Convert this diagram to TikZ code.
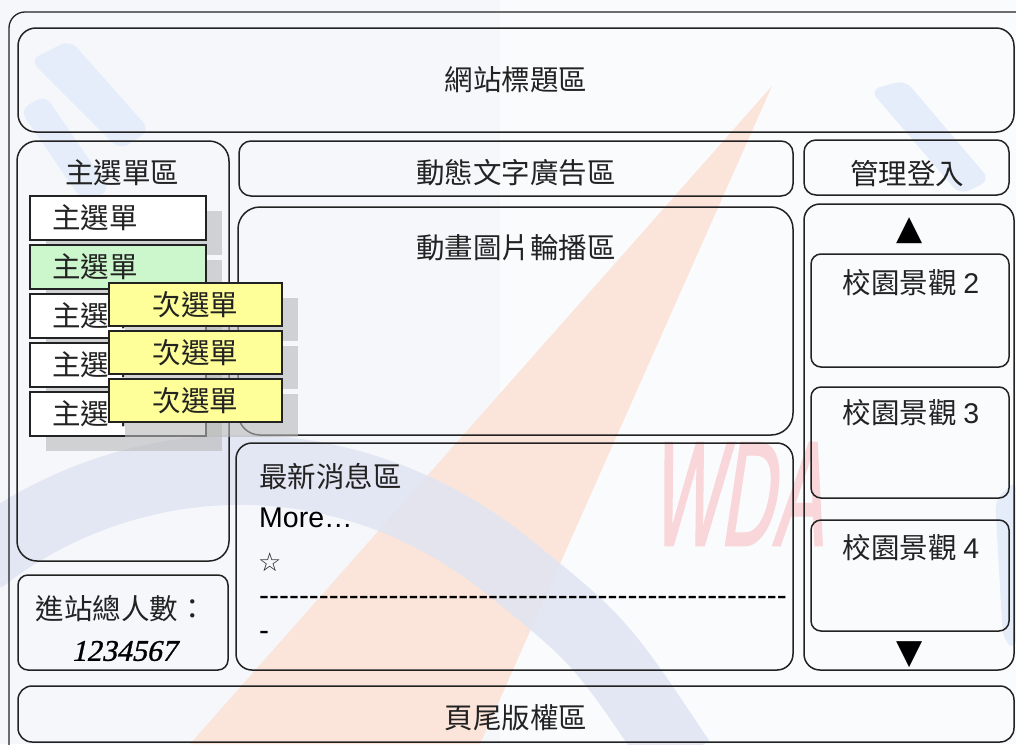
\documentclass[tikz,border=0pt]{standalone}
\usepackage{fontspec}
\setmainfont{Noto Sans CJK TC}
\newfontfamily\lat{Liberation Sans}
\newfontfamily\latbi[FakeSlant=0.3,FakeBold=2]{Liberation Sans}
\newfontfamily\sym{DejaVu Sans}
\newfontfamily\seri[FakeSlant=0.22,FakeBold=1]{Liberation Serif}
\definecolor{bordc}{HTML}{222222}
\definecolor{greenfill}{HTML}{CCF7CC}
\definecolor{yellowfill}{HTML}{FFFF99}
\definecolor{peach}{HTML}{FBE4DA}
\definecolor{lav}{HTML}{E0E4F2}
\definecolor{wdapink}{HTML}{F8D6D9}
\definecolor{shadowgray}{HTML}{B8B8B8}
\definecolor{bgblue}{HTML}{F5F7FB}
\definecolor{glyphblue}{HTML}{E6EDFA}
\begin{document}
\begin{tikzpicture}[x=1pt,y=-1pt,
  font=\fontsize{28.5}{34}\selectfont,
  frame/.style={draw=bordc,line width=1.5pt,inner sep=0pt,outer sep=0pt,anchor=north west},
  menuitem/.style={frame,fill=white,minimum width=176pt,minimum height=44pt},
  subitem/.style={frame,fill=yellowfill,line width=2pt,minimum width=173pt,minimum height=43pt},
  shade/.style={fill=shadowgray,opacity=0.6,inner sep=0pt,outer sep=0pt,anchor=north west},
  lbl/.style={inner sep=0pt,text=bordc},
  lblw/.style={lbl,anchor=west}]
\useasboundingbox (0,0) rectangle (1016,744);
\clip (0,0) rectangle (1016,744);
% background
\fill[bgblue] (0,0) rectangle (1016,744);
\fill[white,opacity=0.5] (500,0) rectangle (1016,744);
% watermark
\fill[glyphblue,rounded corners=10pt] (30,60) -- (70,40) -- (150,130) -- (120,150) -- cycle;
\fill[glyphblue,rounded corners=10pt] (20,110) -- (45,95) -- (110,190) -- (85,205) -- cycle;
\fill[glyphblue,rounded corners=10pt] (870,90) -- (905,80) -- (990,180) -- (960,195) -- cycle;
\fill[glyphblue,rounded corners=10pt] (995,500) -- (1016,480) -- (1016,650) -- (1003,640) -- cycle;
\fill[peach] (772,86) -- (480,744) -- (190,744) -- cycle;
\draw[lav,line width=70pt,opacity=0.85] (-20,560) .. controls (120,450) and (330,430) .. (500,560) .. controls (600,640) .. (680,760);
\node[lbl,text=wdapink,font=\latbi\fontsize{148}{148}\selectfont] (wda) at (736,494) {\scalebox{0.5}[1]{WDA}};
% frames
\node[frame,line width=1.3pt,rounded corners=16pt,minimum width=1040pt,minimum height=760pt] (outer) at (9,12) {};
\node[frame,rounded corners=18pt,minimum width=996pt,minimum height=104pt] (title) at (18,28) {};
\node[frame,rounded corners=20pt,minimum width=212pt,minimum height=420pt] (menu) at (17,141) {};
\node[frame,rounded corners=10pt,minimum width=210pt,minimum height=95pt] (counter) at (18,575) {};
\node[frame,rounded corners=14pt,minimum width=996pt,minimum height=56pt] (footer) at (18,686) {};
\node[frame,rounded corners=12pt,minimum width=554pt,minimum height=55pt] (ad) at (239,141) {};
\node[frame,rounded corners=12pt,minimum width=205pt,minimum height=55pt] (login) at (804,140) {};
\node[frame,rounded corners=22pt,minimum width=555pt,minimum height=228pt] (carousel) at (238,207) {};
\node[frame,rounded corners=16pt,minimum width=557pt,minimum height=227pt] (news) at (236,443) {};
\node[frame,rounded corners=16pt,minimum width=210pt,minimum height=466pt] (right) at (804,204) {};
\node[frame,rounded corners=10pt,minimum width=198pt,minimum height=113pt] (v2) at (811,254) {};
\node[frame,rounded corners=10pt,minimum width=198pt,minimum height=111pt] (v3) at (811,387) {};
\node[frame,rounded corners=10pt,minimum width=198pt,minimum height=111pt] (v4) at (811,520) {};
% main menu shadows
\foreach \yy [count=\k] in {196,245,294,343,392}{
  \node[shade,minimum width=176pt,minimum height=44pt] (ms\k) at (46,\yy+15) {};
}
% main menu items
\node[menuitem] (m1) at (30,196) {};
\node[lblw] (m1t) at (52,218) {主選單};
\node[menuitem,fill=greenfill] (m2) at (30,245) {};
\node[lblw] (m2t) at (52,267) {主選單};
\node[menuitem] (m3) at (30,294) {};
\node[lblw] (m3t) at (52,316) {主選單};
\node[menuitem] (m4) at (30,343) {};
\node[lblw] (m4t) at (52,365) {主選單};
\node[menuitem] (m5) at (30,392) {};
\node[lblw] (m5t) at (52,414) {主選單};
% sub menu shadows
\foreach \yy [count=\k] in {283,331,379}{
  \node[shade,minimum width=173pt,minimum height=43pt] (ss\k) at (125,\yy+15) {};
}
\node[subitem] (s1) at (109,283) {};
\node[lbl] (s1t) at (s1.center) {次選單};
\node[subitem] (s2) at (109,331) {};
\node[lbl] (s2t) at (s2.center) {次選單};
\node[subitem] (s3) at (109,379) {};
\node[lbl] (s3t) at (s3.center) {次選單};
% labels
\node[lbl] (t-title) at (516,80) {網站標題區};
\node[lbl] (t-menu) at (122,173) {主選單區};
\node[lbl] (t-ad) at (516,173) {動態文字廣告區};
\node[lbl] (t-login) at (907,174) {管理登入};
\node[lbl] (t-car) at (516,248) {動畫圖片輪播區};
\node[lbl] (t-foot) at (516,718) {頁尾版權區};
\node[lbl] (t-count) at (121,609) {進站總人數：};
\node[lbl,font=\seri\fontsize{30}{34}\selectfont,text=black] (t-num) at (124,651) {1234567};
\node[lblw] (t-news) at (259,477) {最新消息區};
\node[lblw,font=\lat\fontsize{28.5}{34}\selectfont,text=black] (t-more) at (259,518) {More…};
\node[lblw,font=\sym\fontsize{26}{30}\selectfont] (t-star) at (258,562) {☆};
\node[lblw,font=\lat\fontsize{29.9}{34}\selectfont,text=black] (t-dash) at (259,601) {\foreach \i in {1,...,53}{-\kern0pt}};
\node[lblw,font=\lat\fontsize{29.9}{34}\selectfont,text=black] (t-dash2) at (259,636) {-};
\node[lbl,font=\sym\fontsize{34}{38}\selectfont,text=black] (up) at (910,231) {▲};
\node[lbl,font=\sym\fontsize{34}{38}\selectfont,text=black] (down) at (910,655) {▼};
\node[lbl] (t-v2) at (911,283) {校園景觀 {\lat 2}};
\node[lbl] (t-v3) at (911,413) {校園景觀 {\lat 3}};
\node[lbl] (t-v4) at (911,548) {校園景觀 {\lat 4}};
\end{tikzpicture}
\end{document}
